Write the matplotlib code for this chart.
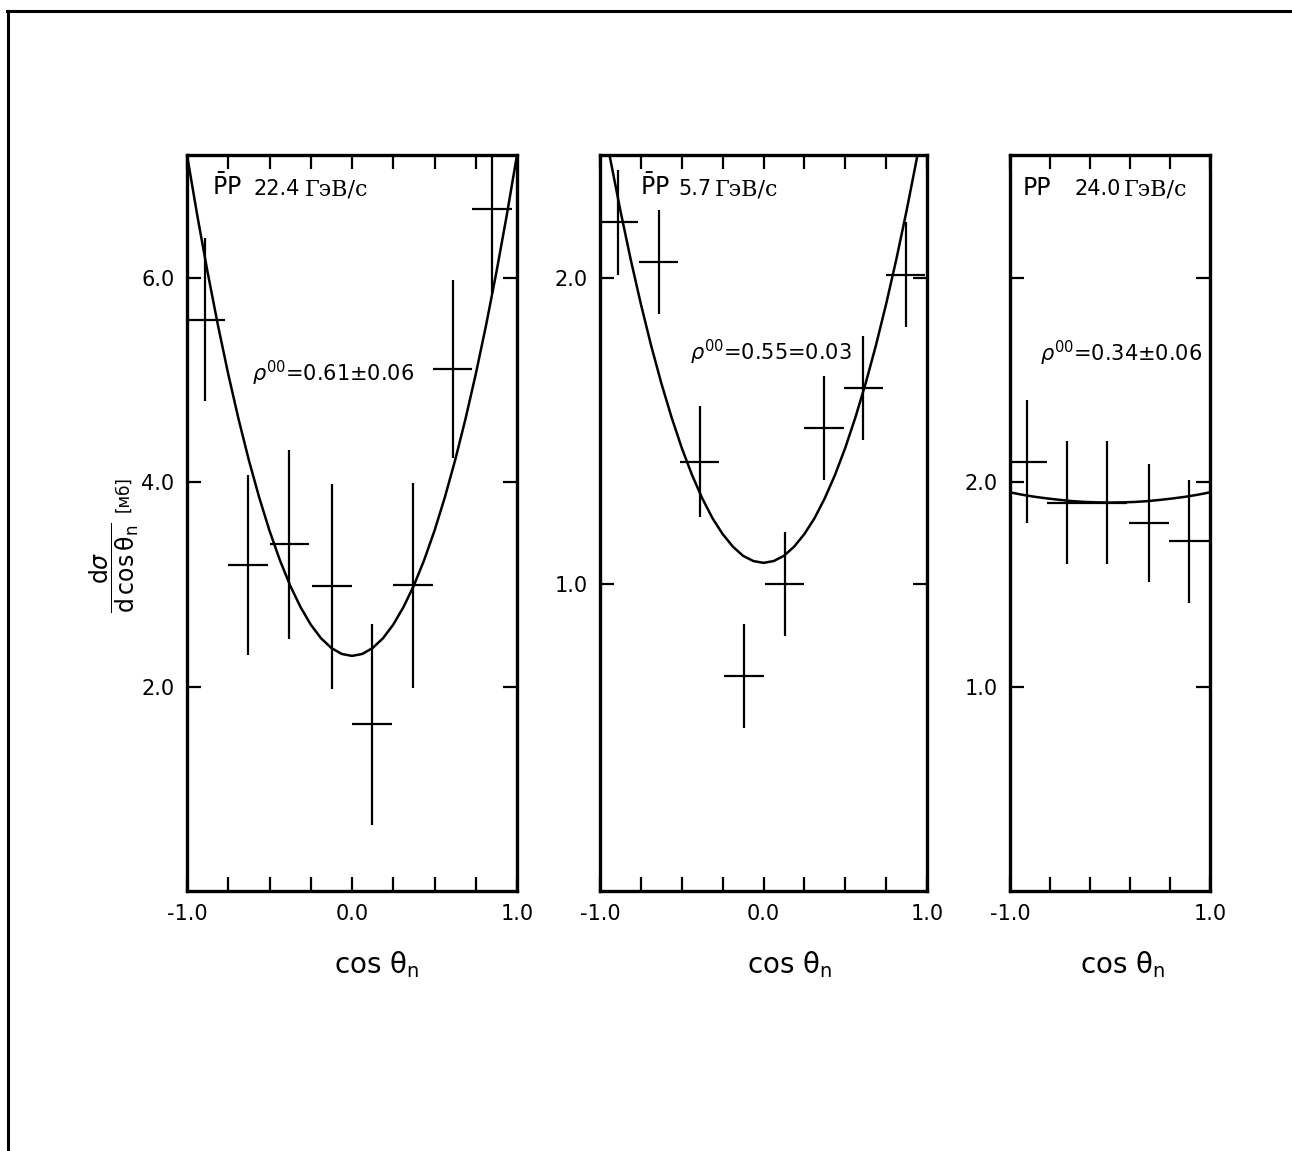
import numpy as np
import matplotlib
matplotlib.use("Agg")
import matplotlib.pyplot as plt
from matplotlib.lines import Line2D

# panel 1: pbar-p 22.4 GeV/c
x1 = [-0.89, -0.63, -0.38, -0.12, 0.12, 0.37, 0.61, 0.85]
y1 = [5.59, 3.19, 3.39, 2.98, 1.63, 2.99, 5.11, 6.67]
ey1 = [0.80, 0.88, 0.92, 1.00, 0.98, 1.00, 0.87, 0.82]
ex1 = [0.12] * 8

# fitted curves
cx12 = [-1.0, -0.9375, -0.875, -0.8125, -0.75, -0.6875, -0.625, -0.5625, -0.5,
        -0.4375, -0.375, -0.3125, -0.25, -0.1875, -0.125, -0.0625, 0.0,
        0.0625, 0.125, 0.1875, 0.25, 0.3125, 0.375, 0.4375, 0.5,
        0.5625, 0.625, 0.6875, 0.75, 0.8125, 0.875, 0.9375, 1.0]
cy1 = [7.200, 6.607, 6.052, 5.535, 5.056, 4.616, 4.214, 3.850, 3.525,
       3.238, 2.989, 2.779, 2.606, 2.472, 2.377, 2.319, 2.300,
       2.319, 2.377, 2.472, 2.606, 2.779, 2.989, 3.238, 3.525,
       3.850, 4.214, 4.616, 5.056, 5.535, 6.052, 6.607, 7.200]

# panel 2: pbar-p 5.7 GeV/c
x2 = [-0.89, -0.64, -0.39, -0.12, 0.13, 0.37, 0.61, 0.87]
y2 = [2.18, 2.05, 1.40, 0.70, 1.00, 1.51, 1.64, 2.01]
ey2 = [0.17, 0.17, 0.18, 0.17, 0.17, 0.17, 0.17, 0.17]
ex2 = [0.12] * 8
cy2 = [2.570, 2.388, 2.218, 2.060, 1.914, 1.779, 1.656, 1.545, 1.445,
       1.357, 1.281, 1.216, 1.164, 1.123, 1.093, 1.076, 1.070,
       1.076, 1.093, 1.123, 1.164, 1.216, 1.281, 1.357, 1.445,
       1.545, 1.656, 1.779, 1.914, 2.060, 2.218, 2.388, 2.570]

# panel 3: pp 24.0 GeV/c
x3 = [-0.83, -0.43, -0.03, 0.39, 0.79]
y3 = [2.10, 1.90, 1.90, 1.80, 1.71]
ey3 = [0.30, 0.30, 0.30, 0.29, 0.30]
ex3 = [0.2] * 5
cx3 = [-1.0, -0.875, -0.75, -0.625, -0.5, -0.375, -0.25, -0.125, 0.0,
       0.125, 0.25, 0.375, 0.5, 0.625, 0.75, 0.875, 1.0]
cy3 = [1.950, 1.938, 1.928, 1.920, 1.913, 1.907, 1.903, 1.901, 1.900,
       1.901, 1.903, 1.907, 1.913, 1.920, 1.928, 1.938, 1.950]

xticks12 = [-1.0, -0.75, -0.5, -0.25, 0.0, 0.25, 0.5, 0.75, 1.0]
xlabels12 = ["-1.0", "", "", "", "0.0", "", "", "", "1.0"]
xticks3 = [-1.0, -0.6, -0.2, 0.2, 0.6, 1.0]
xlabels3 = ["-1.0", "", "", "", "", "1.0"]
yticks1, ylabels1 = [2, 4, 6], ["2.0", "4.0", "6.0"]
yticks2, ylabels2 = [1, 2], ["1.0", "2.0"]
yticks3, ylabels3 = [1, 2, 3], ["1.0", "2.0", ""]

beams = [r"$\bar{\mathrm{P}}$P", r"$\bar{\mathrm{P}}$P", "PP"]
moms = ["22.4", "5.7", "24.0"]
rhos = [r"$\rho^{00}$=0.61±0.06", r"$\rho^{00}$=0.55=0.03", r"$\rho^{00}$=0.34±0.06"]

W, H = 1292, 1151
fig = plt.figure(figsize=(W / 100, H / 100), dpi=100)

def fx(p):
    return p / W

def fy(p):
    return 1 - p / H

boxes = [(187, 517), (600, 927), (1010, 1210)]
top, bot = 155, 891
axes = []
for l, r in boxes:
    ax = fig.add_axes([fx(l), fy(bot), fx(r - l), (bot - top) / H])
    axes.append(ax)

data = [(x1, y1, ex1, ey1, cx12, cy1, 7.2, xticks12, xlabels12, yticks1, ylabels1),
        (x2, y2, ex2, ey2, cx12, cy2, 2.4, xticks12, xlabels12, yticks2, ylabels2),
        (x3, y3, ex3, ey3, cx3, cy3, 3.6, xticks3, xlabels3, yticks3, ylabels3)]

for i, ax in enumerate(axes):
    x, y, ex, ey, cx, cy, ymax, xt, xl, yt, yl = data[i]
    ax.errorbar(x, y, xerr=ex, yerr=ey, fmt='none', ecolor='black',
                elinewidth=1.6, capsize=0)
    ax.plot(cx, cy, color='black', lw=1.8)
    ax.set_xlim(-1, 1)
    ax.set_ylim(0, ymax)
    ax.set_xticks(xt)
    ax.set_xticklabels(xl)
    ax.set_yticks(yt)
    ax.set_yticklabels(yl)
    ax.tick_params(direction='in', top=True, right=True, length=10, width=1.6,
                   labelsize=15, pad=9)
    for s in ax.spines.values():
        s.set_linewidth(2.4)

# header texts and rho labels (pixel positions -> axes fractions)
hdr = [(212, 300, 305), (640, 711, 715), (1023, 1121, 1124)]
rho_pos = [(252, 373), (690, 352), (1040, 353)]
for i, ax in enumerate(axes):
    l, r = boxes[i]
    w = r - l
    yb = 1 - (195 - top) / (bot - top)
    ax.text((hdr[i][0] - l) / w, yb, beams[i], transform=ax.transAxes,
            fontsize=17, va='baseline', ha='left')
    ax.text((hdr[i][1] - l) / w, yb, moms[i], transform=ax.transAxes,
            fontsize=15, va='baseline', ha='right')
    ax.text((hdr[i][2] - l) / w, yb, "ГэВ/с", transform=ax.transAxes,
            fontsize=16, va='baseline', ha='left', family='DejaVu Serif')
    ax.text((rho_pos[i][0] - l) / w, 1 - (rho_pos[i][1] - top) / (bot - top),
            rhos[i], transform=ax.transAxes, fontsize=15, va='center', ha='left')

# x labels
for i, cxp in enumerate([377, 790, 1123]):
    fig.text(fx(cxp), fy(965), "cos θ$_\\mathrm{n}$", fontsize=20,
             ha='center', va='center')

# y label
fig.text(fx(114), fy(568),
         r"$\dfrac{\mathrm{d}\sigma}{\mathrm{d}\,\mathrm{cos}\,\mathrm{\theta}_\mathrm{n}}$",
         fontsize=17, rotation=90, ha='center', va='center')
fig.text(fx(123), fy(494), "[мб]", fontsize=12, rotation=90,
         ha='center', va='center')

# scanned page border (top and left only)
fig.add_artist(Line2D([fx(7), 1], [fy(11), fy(11)], color='black', lw=2.2))
fig.add_artist(Line2D([fx(8), fx(8)], [0, fy(11)], color='black', lw=2.2))

fig.savefig("out.png", dpi=100)
